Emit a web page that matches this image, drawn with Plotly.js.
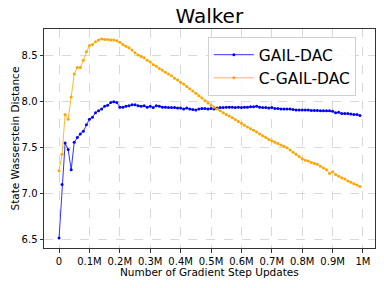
<!DOCTYPE html>
<html>
<head>
<meta charset="utf-8">
<script src="https://cdn.plot.ly/plotly-3.0.1.min.js"></script>
<style>html,body{margin:0;padding:0;background:#fff;}#chart{width:384px;height:288px;}</style>
</head>
<body>
<div id="chart"></div>
<script>
const stepSize = 10000;
const gailDac = [
  6.52, 7.10, 7.55, 7.48, 7.26, 7.56, 7.61, 7.65, 7.68, 7.75,
  7.81, 7.83, 7.88, 7.90, 7.92, 7.95, 7.96, 7.99, 8.00, 7.99,
  7.94, 7.94, 7.95, 7.955, 7.965, 7.965, 7.955, 7.95, 7.955, 7.94,
  7.95, 7.935, 7.955, 7.95, 7.94, 7.94, 7.935, 7.935, 7.935, 7.93,
  7.93, 7.92, 7.93, 7.92, 7.915, 7.91, 7.92, 7.925, 7.925, 7.92,
  7.925, 7.92, 7.93, 7.935, 7.935, 7.94, 7.94, 7.94, 7.935, 7.94,
  7.935, 7.94, 7.94, 7.945, 7.945, 7.95, 7.94, 7.935, 7.935, 7.93,
  7.935, 7.925, 7.925, 7.92, 7.92, 7.92, 7.92, 7.915, 7.91, 7.91,
  7.91, 7.91, 7.91, 7.905, 7.905, 7.905, 7.90, 7.90, 7.90, 7.90,
  7.895, 7.88, 7.885, 7.87, 7.87, 7.87, 7.865, 7.86, 7.86, 7.85
];
const cGailDac = [
  7.25, 7.43, 7.86, 7.81, 8.05, 8.30, 8.37, 8.37, 8.45, 8.54,
  8.61, 8.62, 8.65, 8.67, 8.68, 8.675, 8.675, 8.67, 8.67, 8.66,
  8.645, 8.62, 8.60, 8.585, 8.56, 8.53, 8.505, 8.49, 8.475, 8.45,
  8.43, 8.40, 8.385, 8.36, 8.34, 8.32, 8.30, 8.28, 8.255, 8.235,
  8.21, 8.19, 8.165, 8.14, 8.115, 8.09, 8.065, 8.04, 8.01, 7.985,
  7.96, 7.94, 7.92, 7.90, 7.88, 7.86, 7.845, 7.825, 7.805, 7.785,
  7.765, 7.745, 7.725, 7.705, 7.69, 7.67, 7.65, 7.63, 7.61, 7.59,
  7.575, 7.56, 7.545, 7.53, 7.515, 7.50, 7.475, 7.45, 7.43, 7.405,
  7.38, 7.365, 7.355, 7.34, 7.33, 7.32, 7.30, 7.28, 7.26, 7.22,
  7.24, 7.21, 7.19, 7.175, 7.16, 7.14, 7.125, 7.11, 7.095, 7.08
];
const steps = gailDac.map((_, i) => i * stepSize);
const xTickVals = [0, 100000, 200000, 300000, 400000, 500000, 600000, 700000, 800000, 900000, 1000000];
const xTickText = ['0', '0.1M', '0.2M', '0.3M', '0.4M', '0.5M', '0.6M', '0.7M', '0.8M', '0.9M', '1M'];
const yTickVals = [6.5, 7.0, 7.5, 8.0, 8.5];

const font = 'DejaVu Sans, sans-serif';
const traces = [
  {x: steps, y: gailDac, name: 'GAIL-DAC', type: 'scatter', mode: 'lines+markers',
   line: {color: 'blue', width: 0.8}, marker: {color: 'blue', size: 3}},
  {x: steps, y: cGailDac, name: 'C-GAIL-DAC', type: 'scatter', mode: 'lines+markers',
   line: {color: 'orange', width: 0.8}, marker: {color: 'orange', size: 3}}
];
const axisCommon = {
  showline: true, mirror: true, linecolor: '#333', linewidth: 1,
  ticks: 'outside', ticklen: 3.5, tickcolor: '#333', tickwidth: 1,
  showgrid: true, gridcolor: '#cfcfcf', griddash: 'dash', gridwidth: 0.8,
  zeroline: false, tickfont: {family: font, size: 10, color: '#000'}
};
const layout = {
  width: 384, height: 288,
  margin: {l: 44, r: 9, t: 29, b: 40},
  paper_bgcolor: '#fff', plot_bgcolor: '#fff',
  title: {text: 'Walker', font: {family: font, size: 20, color: '#000'}, x: 0.545, xanchor: 'center', y: 0.943, yanchor: 'middle'},
  xaxis: Object.assign({}, axisCommon, {
    range: [-49500, 1039500], tickvals: xTickVals, ticktext: xTickText
  }),
  yaxis: Object.assign({}, axisCommon, {
    range: [6.412, 8.788], tickvals: yTickVals, tickformat: '.1f'
  }),
  annotations: [
    {text: 'Number of Gradient Step Updates', xref: 'paper', yref: 'paper', x: 0.5, y: -0.11,
     xanchor: 'center', yanchor: 'middle', showarrow: false, font: {family: font, size: 10.5, color: '#000'}},
    {text: 'State Wasserstein Distance', xref: 'paper', yref: 'paper', x: -0.0906, y: 0.5,
     xanchor: 'center', yanchor: 'middle', textangle: -90, showarrow: false, font: {family: font, size: 10.5, color: '#000'}}
  ],
  showlegend: true,
  legend: {x: 0.495, y: 0.963, xanchor: 'left', yanchor: 'top',
    bgcolor: 'rgba(255,255,255,0.8)', bordercolor: '#d0d0d0', borderwidth: 1,
    font: {family: font, size: 15.5, color: '#000'}, itemwidth: 40, tracegroupgap: 2}
};
Plotly.newPlot('chart', traces, layout, {displayModeBar: false, staticPlot: true});
</script>
</body>
</html>
